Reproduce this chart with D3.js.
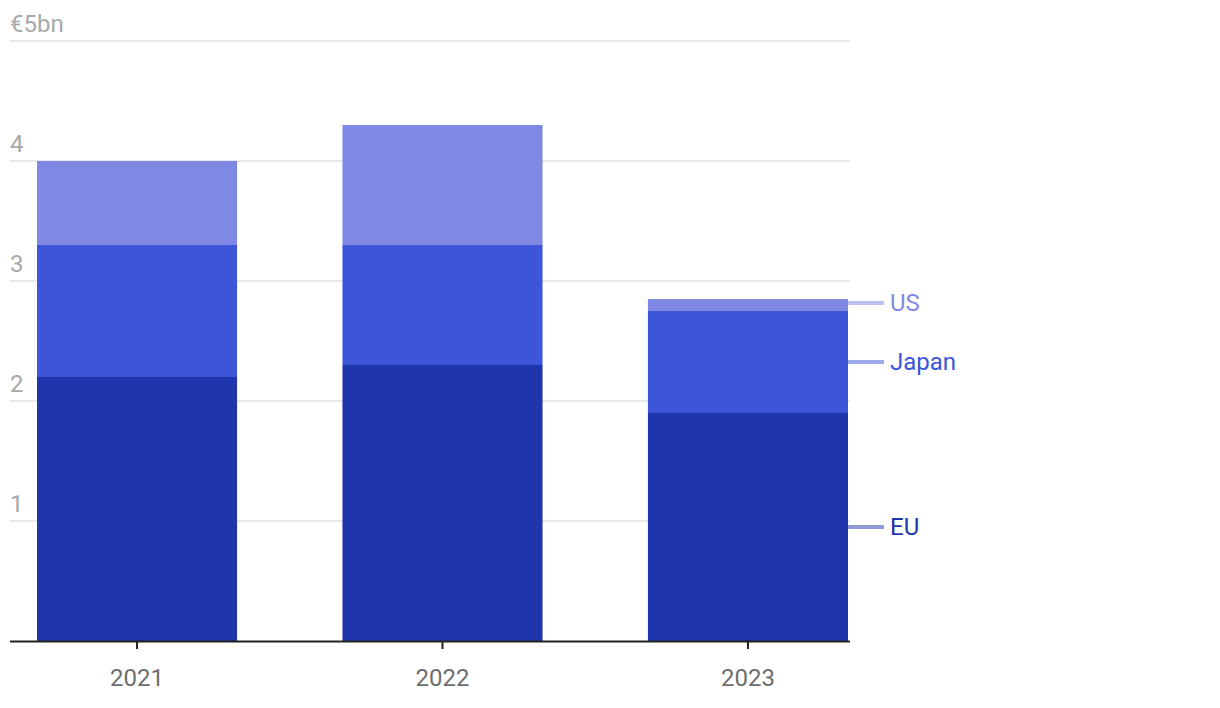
<!DOCTYPE html>
<html><head><meta charset="utf-8">
<script src="https://cdn.jsdelivr.net/npm/d3@7"></script>
<style>body{margin:0;background:#fff;} svg{display:block;font-family:Roboto,sans-serif;}</style>
</head><body>
<svg id="c" width="1220" height="708"></svg>
<script>
const years = ["2021","2022","2023"];
const seriesNames = ["EU","Japan","US"];
const EU = [2.2, 2.3, 1.9];
const Japan = [1.1, 1.0, 0.85];
const US = [0.7, 1.0, 0.1];
const yTicks = [1,2,3,4,5];
const yTickLabels = ["1","2","3","4","€5bn"];

const colors = {EU:"#1f35ab", Japan:"#3c55d9", US:"#7f89e3"};
const lineColors = {EU:"#8f99d6", Japan:"#9ea9ec", US:"#b9bff0"};

const rows = years.map((y,i)=>({year:y, EU:EU[i], Japan:Japan[i], US:US[i]}));
const stack = d3.stack().keys(seriesNames)(rows);

const svg = d3.select("#c");
const y = d3.scaleLinear().domain([0,5]).range([641,41]);
const x = d3.scaleBand().domain(years).range([37,848]).paddingInner(0.345).paddingOuter(0);

// gridlines
svg.append("g").selectAll("line").data(yTicks).join("line")
  .attr("x1",10).attr("x2",850).attr("y1",d=>y(d)).attr("y2",d=>y(d))
  .attr("stroke","#e2e2e2").attr("stroke-width",1.5);
svg.append("g").selectAll("text").data(yTicks).join("text")
  .attr("x",10).attr("y",d=>y(d)-9).text((d,i)=>yTickLabels[i])
  .attr("fill","#a8a8a8").style("font-size","24px");

// bars
svg.append("g").selectAll("g").data(stack).join("g").attr("fill",d=>colors[d.key])
  .selectAll("rect").data(d=>d).join("rect")
  .attr("x",d=>x(d.data.year)).attr("width",x.bandwidth())
  .attr("y",d=>y(d[1])).attr("height",d=>y(d[0])-y(d[1]));

// x axis
const xa = svg.append("g").attr("transform","translate(0,641)")
  .call(d3.axisBottom(x).tickSize(8).tickPadding(20).tickSizeOuter(0));
xa.select(".domain").remove();
xa.selectAll(".tick line").attr("stroke","#222").attr("stroke-width",2);
xa.selectAll(".tick text").attr("fill","#6e6e6e").style("font-size","24px").attr("font-family","Roboto,sans-serif");
svg.append("line").attr("x1",10).attr("x2",850).attr("y1",641.5).attr("y2",641.5)
  .attr("stroke","#222").attr("stroke-width",2);

// end labels
const last = years.length-1;
const labelY = {};
stack.forEach(s=>{ labelY[s.key] = (y(s[last][0])+y(s[last][1]))/2; });
labelY.US = Math.min(labelY.US, labelY.Japan-59);
const lg = svg.append("g");
seriesNames.forEach(k=>{
  const yy = labelY[k];
  lg.append("line").attr("x1",848).attr("x2",884).attr("y1",yy).attr("y2",yy)
    .attr("stroke",lineColors[k]).attr("stroke-width",4);
  lg.append("text").attr("x",890).attr("y",yy).attr("dy","0.35em").text(k)
    .attr("fill",colors[k]).style("font-size","24px");
});
</script>
</body></html>
